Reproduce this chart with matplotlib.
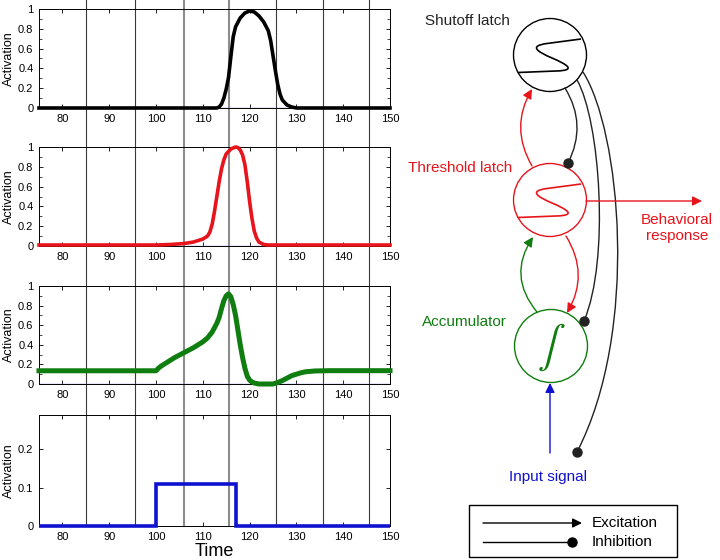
import numpy as np
import matplotlib
matplotlib.use("Agg")
import matplotlib.pyplot as plt
from matplotlib.lines import Line2D
from matplotlib.patches import Circle, Rectangle, FancyArrowPatch, PathPatch
from matplotlib.path import Path
from matplotlib.ticker import MultipleLocator
import matplotlib.transforms as mtransforms

plt.rcParams['font.family'] = ['Liberation Sans', 'DejaVu Sans']

# ---- data ----
shutoff_t = [75, 113, 113.5, 114, 114.5, 115, 115.5, 116, 116.5, 117, 118, 119, 120, 121, 122, 123,
             124, 124.5, 125, 125.5, 126, 126.5, 127, 128, 129, 130, 150]
shutoff_y = [0, 0, 0.01, 0.04, 0.1, 0.19, 0.31, 0.52, 0.72, 0.82, 0.91, 0.96, 0.98, 0.97, 0.93, 0.87,
             0.78, 0.68, 0.53, 0.38, 0.24, 0.14, 0.08, 0.03, 0.01, 0, 0]

threshold_t = [75, 100, 103, 106, 108, 110, 111, 111.5, 112, 112.5, 113, 113.5, 114, 114.5, 115, 116,
               117, 117.5, 118, 118.5, 119, 119.5, 120, 120.5, 121, 121.5, 122, 123, 124, 150]
threshold_y = [0.01, 0.01, 0.015, 0.025, 0.04, 0.07, 0.1, 0.14, 0.22, 0.35, 0.5, 0.65, 0.78, 0.87, 0.93, 0.98,
               1.0, 0.995, 0.97, 0.92, 0.82, 0.65, 0.45, 0.28, 0.15, 0.08, 0.04, 0.015, 0.01, 0.01]

accum_t = [75, 100, 100.5, 101, 102, 103, 104, 106, 108, 110, 111, 112, 113, 113.5, 114, 114.5, 115,
           115.5, 116, 116.5, 117, 117.5, 118, 118.5, 119, 119.5, 120, 120.5, 121, 122, 125, 126, 127,
           128, 129, 130, 131, 132, 134, 137, 150]
accum_y = [0.135, 0.135, 0.16, 0.18, 0.21, 0.24, 0.27, 0.32, 0.37, 0.43, 0.47, 0.53, 0.62, 0.68, 0.77, 0.85, 0.9,
           0.92, 0.89, 0.81, 0.7, 0.55, 0.4, 0.27, 0.16, 0.08, 0.04, 0.02, 0.01, 0.0, 0.0, 0.015, 0.035,
           0.06, 0.085, 0.1, 0.115, 0.125, 0.133, 0.136, 0.136]

input_edges = [75, 100, 117, 150]
input_vals = [0, 0.11, 0]

marker_times = [85, 95.5, 106, 115.6, 125.6, 135.7, 145.5]
marker_gray = [False, False, True, True, False, False, False]

xticks = [80, 90, 100, 110, 120, 130, 140, 150]

RED = '#e8141b'
GREEN = '#0f7d0f'
BLUE = '#1010d0'

fig = plt.figure(figsize=(7.2, 5.6), dpi=100)
fig.patch.set_facecolor('white')

L, W = 39 / 720, (390 - 39) / 720
boxes = [(9, 108), (147, 246), (286, 384), (415, 526)]   # top/bottom in pixels
axes = []
for top, bot in boxes:
    ax = fig.add_axes([L, 1 - bot / 560, W, (bot - top) / 560])
    ax.set_facecolor('none')
    axes.append(ax)

series = [(shutoff_t, shutoff_y, 'black', 2.6),
          (threshold_t, threshold_y, RED, 2.6),
          (accum_t, accum_y, GREEN, 3.6)]
for ax, (t, y, c, lw) in zip(axes[:3], series):
    ax.plot([75, 150], [0, 0], color='#8080ff', lw=1, zorder=2)
    ax.plot(t, y, color=c, lw=lw, zorder=3, clip_on=False, solid_joinstyle='round')
    ax.set_ylim(0, 1)
    ax.set_yticks([0, 0.2, 0.4, 0.6, 0.8, 1])
    ax.set_yticklabels(['0', '0.2', '0.4', '0.6', '0.8', '1'])
    ax.yaxis.set_minor_locator(MultipleLocator(0.1))

ax4 = axes[3]
ax4.stairs(input_vals, input_edges, color=BLUE, lw=2.6, baseline=None, zorder=3, clip_on=False)
ax4.set_ylim(0, 0.29)
ax4.set_yticks([0, 0.1, 0.2])
ax4.set_yticklabels(['0', '0.1', '0.2'])
ax4.set_xlabel('Time', fontsize=13, labelpad=1)

for ax in axes:
    ax.set_xlim(75, 150)
    ax.set_xticks(xticks)
    ax.tick_params(direction='in', top=True, right=True, length=3, width=0.6, labelsize=8, pad=4)
    ax.tick_params(which='minor', direction='in', right=True, left=True, length=2, width=0.5)
    ax.set_ylabel('Activation', fontsize=9, labelpad=2)
    for s in ax.spines.values():
        s.set_linewidth(0.7)

# vertical time markers running through all panels
tr = mtransforms.blended_transform_factory(ax4.transData, fig.transFigure)
ybot = 1 - 526 / 560
for x, g in zip(marker_times, marker_gray):
    fig.add_artist(Line2D([x, x], [ybot, 1], transform=tr, zorder=-1,
                          color='#8c8c8c' if g else '#3a3a3a', lw=1.5 if g else 0.8))

# ---- circuit diagram ----
dg = fig.add_axes([0, 0, 1, 1], zorder=3)
dg.set_facecolor('none')
dg.set_xlim(0, 720)
dg.set_ylim(560, 0)
dg.axis('off')

nodes = {'shutoff': (550, 55), 'threshold': (550, 200), 'accum': (551, 346)}
R = 36.5
node_col = {'shutoff': 'black', 'threshold': RED, 'accum': GREEN}
for k, (cx, cy) in nodes.items():
    dg.add_patch(Circle((cx, cy), R, fill=False, ec=node_col[k], lw=1))

# S-shaped latch symbol
def latch(cx, cy, col):
    v = [(31, -16), (-3, -11.5), (-22, -9), (-12, -3), (2, 3),
         (16, 9), (28, 15.5), (6, 16), (-32, 17.5)]
    v = [(cx + a, cy + b) for a, b in v]
    codes = [Path.MOVETO, Path.LINETO, Path.CURVE4, Path.CURVE4, Path.CURVE4,
             Path.CURVE4, Path.CURVE4, Path.CURVE4, Path.LINETO]
    dg.add_patch(PathPatch(Path(v, codes), fill=False, ec=col, lw=1.2))

latch(*nodes['shutoff'], 'black')
latch(*nodes['threshold'], RED)
dg.text(551, 347, r'$\int$', fontsize=30, color=GREEN, ha='center', va='center', math_fontfamily='stix')

def arrow(a, b, col, rad):
    dg.add_patch(FancyArrowPatch(a, b, connectionstyle=f'arc3,rad={rad}', arrowstyle='-|>',
                                 mutation_scale=14, color=col, lw=1, shrinkA=0, shrinkB=0))

def inhib(a, b, rad):
    dg.add_patch(FancyArrowPatch(a, b, connectionstyle=f'arc3,rad={rad}', arrowstyle='-',
                                 color='#222222', lw=1, shrinkA=0, shrinkB=0))
    dg.plot(*b, 'o', color='#222222', ms=6.5)

def inhib_long(pts):
    codes = [Path.MOVETO, Path.CURVE4, Path.CURVE4, Path.CURVE4]
    dg.add_patch(PathPatch(Path(pts, codes), fill=False, ec='#222222', lw=1))
    dg.plot(*pts[-1], 'o', color='#222222', ms=6.5)

arrow((532, 166), (532, 89), RED, -0.29)
inhib((565, 88), (568, 163), -0.28)
arrow((537, 312), (533, 237), GREEN, -0.37)
arrow((566, 236), (567, 313), RED, -0.3)
inhib_long([(577, 80), (600, 120), (610, 260), (584, 321)])
inhib_long([(583, 72), (620, 130), (640, 330), (577, 452)])
arrow((586, 201), (702, 201), RED, 0)
arrow((550, 453), (550, 383), BLUE, 0)

dg.text(425, 21, 'Shutoff latch', fontsize=11, color='#222222', va='center')
dg.text(512, 168, 'Threshold latch', fontsize=11, color=RED, va='center', ha='right')
dg.text(507, 322, 'Accumulator', fontsize=11, color=GREEN, va='center', ha='right')
dg.text(677, 228, 'Behavioral\nresponse', fontsize=11, color=RED, va='center', ha='center',
        linespacing=1.25)
dg.text(548, 477, 'Input signal', fontsize=11, color=BLUE, va='center', ha='center')

# legend box
dg.add_patch(Rectangle((469, 505), 208, 52, fill=False, ec='black', lw=1))
dg.add_patch(FancyArrowPatch((483, 523), (582, 523), arrowstyle='-|>', mutation_scale=14,
                             color='black', lw=1, shrinkA=0, shrinkB=0))
dg.plot([483, 572], [542, 542], color='black', lw=1)
dg.plot(572, 542, 'o', color='black', ms=6.5)
dg.text(592, 523, 'Excitation', fontsize=11, va='center')
dg.text(592, 542, 'Inhibition', fontsize=11, va='center')

fig.savefig('out.png', dpi=100)
